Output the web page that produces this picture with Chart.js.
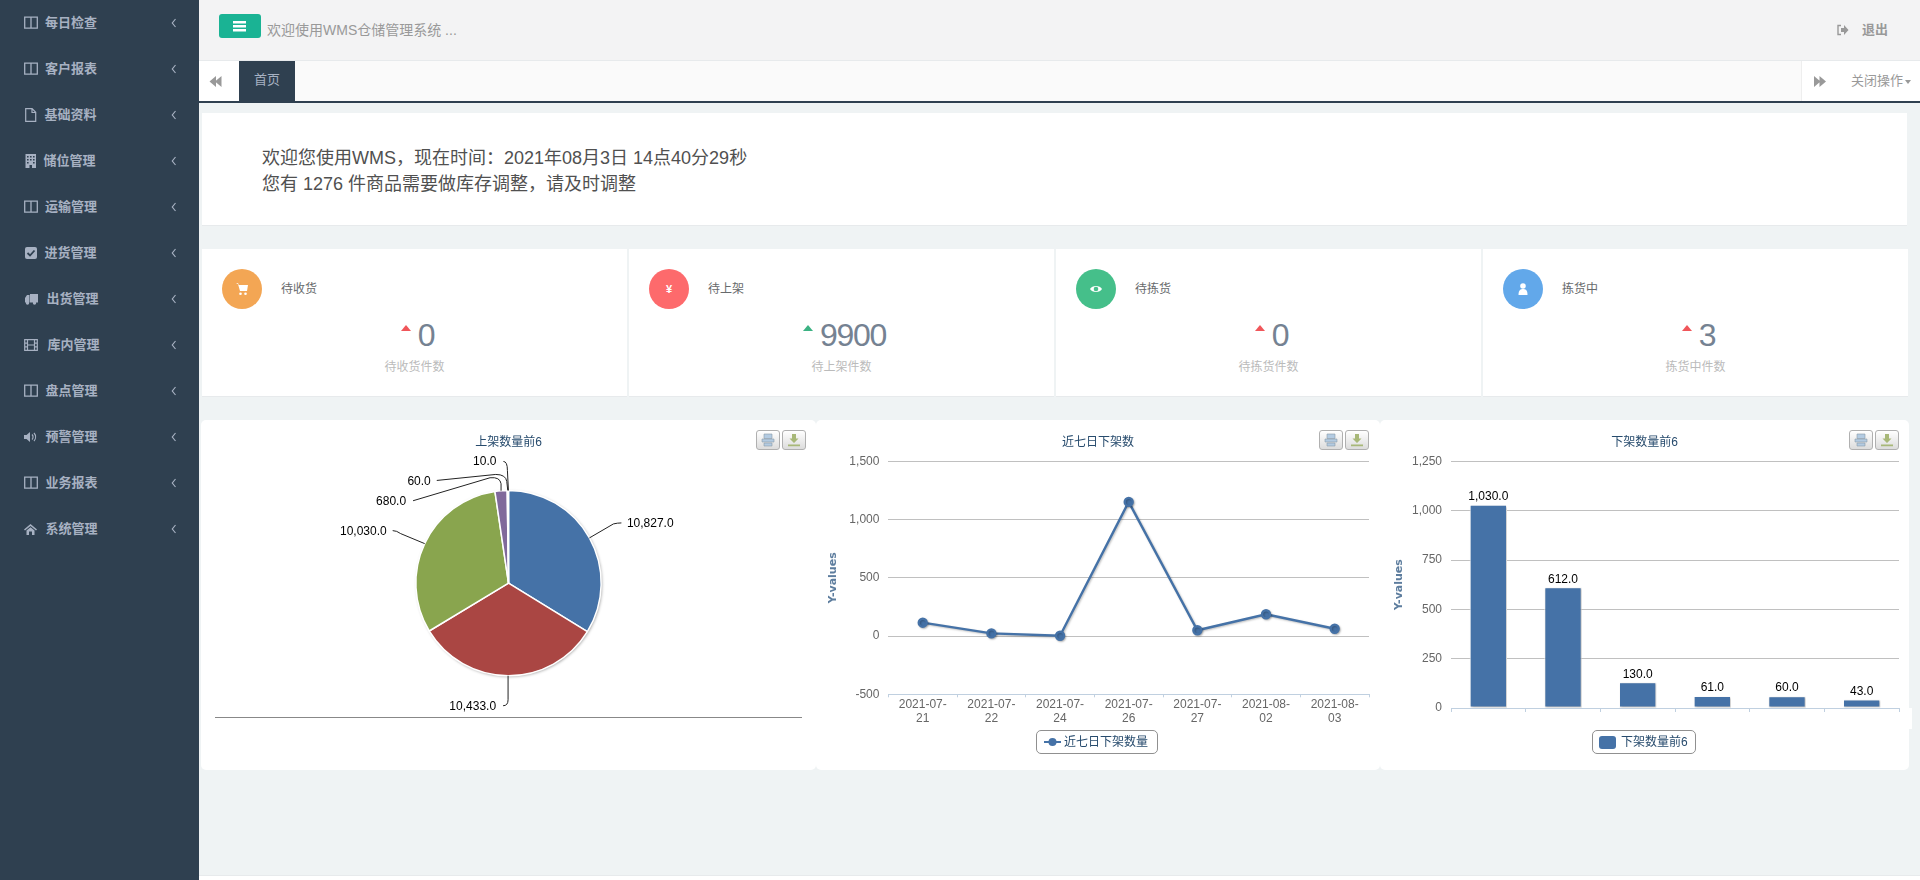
<!DOCTYPE html>
<html lang="zh-CN">
<head>
<meta charset="utf-8">
<title>WMS</title>
<script src="https://cdn.jsdelivr.net/npm/chart.js@4"></script>
<style>
    html, body { margin: 0; padding: 0; width: 1920px; height: 880px; overflow: hidden; background: #eff3f4; }
    body { position: relative; font-family: "Liberation Sans", "Noto Sans CJK SC", sans-serif; color: #676a6c; }
    .abs { position: absolute; white-space: nowrap; }
    .white { position: absolute; background: #fff; }
    #sidebar { position: absolute; left: 0; top: 0; width: 199px; height: 880px; background: #2f4050; color: #a7b1c2; }
    #topbar { position: absolute; left: 199px; top: 0; width: 1721px; height: 60px; background: #f3f3f4; border-bottom: 1px solid #e7eaec; }
    #tabbar { position: absolute; left: 199px; top: 61px; width: 1721px; height: 40px; background: #fafafa; border-bottom: 2px solid #2f4050; }
    #bottom { position: absolute; left: 199px; top: 875px; width: 1721px; height: 5px; background: #fff; border-top: 1px solid #e7eaec; }
    .card { position: absolute; top: 420px; height: 350px; background: #fff; border-radius: 5px; }
    .card canvas { position: absolute; left: 0; top: 0; }
    .stat { position: absolute; top: 249px; width: 425px; height: 147px; background: #fff; border-bottom: 1px solid #e7eaec; }
    .circle { position: absolute; left: 20px; top: 20px; width: 40px; height: 40px; border-radius: 50%; color: #fff; font-size: 11px; font-weight: bold; line-height: 40px; text-align: center; }
    .circle svg { position: absolute; left: 13px; top: 13px; }
    .num { position: absolute; left: 3px; top: 69px; width: 425px; height: 34px; display: flex; justify-content: center; font-size: 32px; letter-spacing: -1.3px; line-height: 34px; color: #758292; }
    .tri { width: 0; height: 0; margin: 7px 7px 0 0; border-left: 5.5px solid transparent; border-right: 5.5px solid transparent; border-bottom: 6px solid #f0565a; }
    .btn { position: absolute; top: 10px; width: 22px; height: 18px; border: 1px solid #b0b0b0; border-radius: 3px; background: linear-gradient(#ffffff, #dcdcdc); }
    .btn svg { position: absolute; left: 4px; top: 2px; }
    .legend { position: absolute; top: 310px; height: 22px; border: 1px solid #909090; border-radius: 5px; background: #fff; font-size: 12px; line-height: 23px; color: #274b6d; }
</style>
</head>
<body>
<div id="sidebar"></div>
<div id="topbar">
    <div class="abs" style="left:20px;top:14px;width:42px;height:24px;background:#1ab394;border-radius:3px">
        <svg width="42" height="24"><path d="M14 7h13v2.400H14zM14 11h13v2.400H14zM14 15h13v2.400H14z" fill="#fff"/></svg>
    </div>
    <div class="abs" style="left:68px;top:20px;font-size:14px;line-height:20px;color:#999">欢迎使用WMS仓储管理系统 ...</div>
    <svg class="abs" style="left:1637px;top:24px" width="13" height="12"><path d="M5 1.500H2v9h3" fill="none" stroke="#999" stroke-width="1.400"/><path d="M5 4h3V1l4.500 5L8 11V8H5z" fill="#999"/></svg>
    <div class="abs" style="left:1663px;top:20px;font-size:13px;font-weight:bold;line-height:20px;color:#999">退出</div>
</div>
<div id="tabbar">
    <div class="abs" style="left:0;top:0;width:40px;height:40px;background:#fff">
        <svg width="40" height="40"><path d="M17 15l-6.500 5.500 6.500 5.500zM22.500 15l-6.500 5.500 6.500 5.500z" fill="#999"/></svg>
    </div>
    <div class="abs" style="left:40px;top:0;width:56px;height:40px;background:#2f4050;color:#a7b1c2;font-size:13px;line-height:38px;text-align:center">首页</div>
    <div class="abs" style="left:1602px;top:0;width:40px;height:40px;background:#fff;border-left:1px solid #eee;border-right:1px solid #eee">
        <svg width="40" height="40"><path d="M12 15l6.500 5.500-6.500 5.500zM17.500 15l6.500 5.500-6.500 5.500z" fill="#999"/></svg>
    </div>
    <div class="abs" style="left:1643px;top:0;width:78px;height:40px;background:#fff;color:#999;font-size:13px;line-height:40px;text-indent:9px">关闭操作<span style="display:inline-block;width:0;height:0;margin-left:2px;vertical-align:1px;text-indent:0;border-left:3.500px solid transparent;border-right:3.500px solid transparent;border-top:4px solid #999"></span></div>
</div>

<div class="white" style="left:202px;top:113px;width:1705px;height:112px;border-bottom:1px solid #e7eaec"></div>
<div class="abs" style="left:262px;top:145px;font-size:18px;line-height:26px;color:#505050">欢迎您使用WMS，现在时间：2021年08月3日 14点40分29秒<br>您有 1276 件商品需要做库存调整，请及时调整</div>

<div id="stats"></div>

<div class="card" style="left:201px;width:615px">
    <canvas id="pieChart" width="615" height="350" style="width:615px;height:350px"></canvas>
    <div class="abs" style="left:14px;top:296.500px;width:587px;height:1px;background:#888"></div>
</div>
<div class="card" style="left:816px;width:564px">
    <canvas id="lineChart" width="564" height="350" style="width:564px;height:350px"></canvas>
    <div class="legend" style="left:220px;width:120px">
        <svg class="abs" style="left:7px;top:4px" width="17" height="14"><path d="M0 7h17" stroke="#4572a7" stroke-width="2"/><circle cx="8.500" cy="7" r="4" fill="#4572a7"/></svg>
        <span class="abs" id="lineLegend" style="left:27px"></span>
    </div>
</div>
<div class="card" style="left:1380px;width:529px">
    <canvas id="barChart" width="529" height="350" style="width:529px;height:350px"></canvas>
    <div class="legend" style="left:212px;width:102px">
        <span class="abs" style="left:6px;top:5px;width:17px;height:13px;background:#4572a7;border-radius:3px"></span>
        <span class="abs" id="barLegend" style="left:28px"></span>
    </div>
</div>
<div class="white" style="left:1900px;top:708px;width:12px;height:21px"></div>
<div id="bottom"></div>

<script>
// sidebar + stat card text
const menuNames = ['每日检查', '客户报表', '基础资料', '储位管理', '运输管理', '进货管理', '出货管理', '库内管理', '盘点管理', '预警管理', '业务报表', '系统管理'];
const menuIcons = ['columns', 'columns', 'file', 'building', 'columns', 'check', 'truck', 'film', 'columns', 'volume', 'columns', 'home'];
const menuTextLeft = [45, 45, 44.5, 43.5, 45, 44.5, 46.5, 47.5, 45.5, 45.5, 45.5, 45.5];

const statTitles = ['待收货', '待上架', '待拣货', '拣货中'];
const statValues = ['0', '9900', '0', '3'];
const statNotes = ['待收货件数', '待上架件数', '待拣货件数', '拣货中件数'];
const statColors = ['#f3a654', '#fd6a6c', '#45bf8a', '#62a8ea'];

// chart data
const pieNames = ['商品1', '商品2', '商品3', '商品4', '商品5', '商品6'];
const pieValues = [10827, 10433, 10030, 680, 60, 10];
const pieColors = ['#4572a7', '#aa4643', '#89a54e', '#80699b', '#3d96ae', '#db843d'];

const lineCategories = ['2021-07-21', '2021-07-22', '2021-07-24', '2021-07-26', '2021-07-27', '2021-08-02', '2021-08-03'];
const lineValues = [115, 23, 3, 1152, 50, 187, 63];
const lineTicks = [-500, 0, 500, 1000, 1500];

const barCategories = ['', ' ', '  ', '   ', '    ', '     '];
const barValues = [1030, 612, 130, 61, 60, 43];
const barTicks = [0, 250, 500, 750, 1000, 1250];

const pieTitle = '上架数量前6';
const lineTitle = '近七日下架数';
const barTitle = '下架数量前6';
const lineSeriesName = '近七日下架数量';
const barSeriesName = '下架数量前6';

const fontFamily = '"Liberation Sans", "Noto Sans CJK SC", sans-serif';
const blue = '#4572a7';

const iconPaths = {
    columns: '<path d="M.7 1.2h12.6v11H.7zM7 1.2v11" fill="none" stroke="#a7b1c2" stroke-width="1.3"/>',
    file: '<path d="M1.7.7h6.4l3.6 3.6v9H1.7zM8 .7v3.8h3.6" fill="none" stroke="#a7b1c2" stroke-width="1.2"/>',
    building: '<path d="M1.5 0h10.5v14H1.5z" fill="#a7b1c2"/><path d="M3 2h1.6v1.6H3zM6 2h1.6v1.6H6zM9 2h1.6v1.6H9zM3 5h1.6v1.6H3zM6 5h1.6v1.6H6zM9 5h1.6v1.6H9zM3 8h1.6v1.6H3zM9 8h1.6v1.6H9zM5.5 11h2.5v3H5.5z" fill="#2f4050"/>',
    check: '<rect x="1" y="1" width="12" height="12" rx="2" fill="#a7b1c2"/><path d="M3.5 7l2.5 2.5 4.5-5" fill="none" stroke="#2f4050" stroke-width="1.8"/>',
    truck: '<path d="M6 2h8v8.5H6zM1 6l2-3h2.5v7.5H1z" fill="#a7b1c2"/><circle cx="3.5" cy="11" r="1.7" fill="#a7b1c2"/><circle cx="10.5" cy="11" r="1.7" fill="#a7b1c2"/>',
    film: '<path d="M.7 1.7h12.6v10.6H.7zM3.5 1.7v10.6M10.5 1.7v10.6M.7 5.2h2.8M.7 8.8h2.8M10.5 5.2h2.8M10.5 8.8h2.8M3.5 7h7" fill="none" stroke="#a7b1c2" stroke-width="1.2"/>',
    volume: '<path d="M0 5h2.5L6 2v10L2.5 9H0z" fill="#a7b1c2"/><path d="M8 4.5a3.5 3.5 0 0 1 0 5M10 3a6 6 0 0 1 0 8" fill="none" stroke="#a7b1c2" stroke-width="1.2"/>',
    home: '<path d="M0 7.5L6.5 2 13 7.5l-1 1-5.5-4.5L1 8.500zM2.500 8.500l4-3.300 4 3.300V13H8V9.500H5V13H2.500z" fill="#a7b1c2"/>'
};

const statIcons = [
    '<path d="M1 1h2l.8 2H13l-1 6H5L3 2" fill="#fff"/><circle cx="5.500" cy="11.800" r="1.300" fill="#fff"/><circle cx="10.500" cy="11.800" r="1.300" fill="#fff"/>',
    '',
    '<path d="M1 7c2-4 10-4 12 0-2 4-10 4-12 0z" fill="#fff"/><circle cx="7" cy="7" r="2.300" fill="#45bf8a"/>',
    '<circle cx="7" cy="4" r="2.800" fill="#fff"/><path d="M2.500 13c0-5 2-6 4.500-6s4.500 1 4.500 6z" fill="#fff"/>'
];

// leader lines of the pie, offsets are from the point on the rim of each slice
const pieLeaders = [
    { p1: [24, -14], corner: [28, -15], p2: [32, -15], text: [37.5, -14], align: 'left' },
    { p1: [0, 24], corner: [0, 30], p2: [-5, 30], text: [-12, 31], align: 'right' },
    { p1: [-24, -10], corner: [-28, -13], p2: [-32, -13], text: [-38, -12], align: 'right' },
    { p1: [0, -7], corner: [-1, -14], p2: [-11, -13], end: [-88, 10], text: [-95, 11], align: 'right' },
    { p1: [-1, -9], corner: [-2, -16], p2: [-12, -16], end: [-71, -10], text: [-77, -9], align: 'right' },
    { p1: [-1, -20], corner: [-1, -29], p2: [-5, -29], text: [-12, -29], align: 'right' }
];

function fmt(v) {
    return Number(v).toLocaleString('en-US');
}

function fmtOne(v) {
    return Number(v).toLocaleString('en-US', { minimumFractionDigits: 1, maximumFractionDigits: 1 });
}

function buildSidebar() {
    const box = document.getElementById('sidebar');
    menuNames.forEach(function (name, i) {
        const cy = 23 + 46 * i;
        box.insertAdjacentHTML('beforeend',
            '<svg class="abs" style="left:24px;top:' + (cy - 7) + 'px" width="14" height="14">' + iconPaths[menuIcons[i]] + '</svg>' +
            '<div class="abs" style="left:' + menuTextLeft[i] + 'px;top:' + (cy - 10) + 'px;font-size:13px;font-weight:bold;line-height:20px">' + name + '</div>' +
            '<svg class="abs" style="left:171px;top:' + (cy - 5) + 'px" width="6" height="10"><path d="M4.500 1L1.300 5l3.200 4" fill="none" stroke="#a7b1c2" stroke-width="1.200"/></svg>');
    });
}

function buildStats() {
    const box = document.getElementById('stats');
    const lefts = [202, 629, 1056, 1483];
    statTitles.forEach(function (title, i) {
        const triColor = i === 1 ? '#3cb283' : '#f0565a';
        const icon = i === 1 ? '¥' : '<svg width="14" height="14">' + statIcons[i] + '</svg>';
        box.insertAdjacentHTML('beforeend',
            '<div class="stat" style="left:' + lefts[i] + 'px">' +
            '<div class="circle" style="background:' + statColors[i] + '">' + icon + '</div>' +
            '<div class="abs" style="left:79px;top:30px;font-size:12px;line-height:20px">' + title + '</div>' +
            '<div class="num"><span class="tri" style="border-bottom-color:' + triColor + '"></span>' + statValues[i] + '</div>' +
            '<div class="abs" style="left:0;top:109px;width:425px;text-align:center;font-size:12px;line-height:18px;color:#bbb">' + statNotes[i] + '</div>' +
            '</div>');
    });
}

function buildButtons() {
    const printIcon = '<svg width="14" height="14"><path d="M3 1h8v4.500H3zM1 6h12v3H1zM3 10h8v3H3z" fill="#b3cbe2" stroke="#8c9aa8" stroke-width=".6"/></svg>';
    const saveIcon = '<svg width="14" height="14"><path d="M5 1h4v4.500h2.500L7 10 2.500 5.500H5zM1 11.500h12v1.800H1z" fill="#a8b878"/></svg>';
    const offsets = [10, 11, 10];
    document.querySelectorAll('.card').forEach(function (card, i) {
        const right = card.offsetWidth;
        card.insertAdjacentHTML('beforeend',
            '<div class="btn" style="left:' + (right - offsets[i] - 50) + 'px">' + printIcon + '</div>' +
            '<div class="btn" style="left:' + (right - offsets[i] - 24) + 'px">' + saveIcon + '</div>');
    });
    document.getElementById('lineLegend').textContent = lineSeriesName;
    document.getElementById('barLegend').textContent = barSeriesName;
}

// soft shadow under marks, same as the old chart had
const shadowPlugin = {
    id: 'markShadow',
    beforeDatasetsDraw: function (chart) {
        const ctx = chart.ctx;
        ctx.save();
        ctx.shadowColor = 'rgba(0,0,0,0.25)';
        ctx.shadowOffsetX = 1;
        ctx.shadowOffsetY = 1;
        ctx.shadowBlur = 2;
    },
    afterDatasetsDraw: function (chart) {
        chart.ctx.restore();
    }
};

// one shadow below the whole pie, not per slice
const pieShadowPlugin = {
    id: 'pieShadow',
    beforeDatasetsDraw: function (chart) {
        const arc = chart.getDatasetMeta(0).data[0];
        const ctx = chart.ctx;
        ctx.save();
        ctx.shadowColor = 'rgba(0,0,0,0.35)';
        ctx.shadowOffsetX = 1;
        ctx.shadowOffsetY = 1;
        ctx.shadowBlur = 3;
        ctx.fillStyle = '#fff';
        ctx.beginPath();
        ctx.arc(arc.x, arc.y, arc.outerRadius, 0, Math.PI * 2);
        ctx.fill();
        ctx.restore();
    }
};

const pieLabelPlugin = {
    id: 'pieLabels',
    afterDatasetsDraw: function (chart) {
        const ctx = chart.ctx;
        ctx.save();
        ctx.font = '12px ' + fontFamily;
        ctx.fillStyle = '#000';
        ctx.strokeStyle = '#222';
        ctx.lineWidth = 1;
        ctx.textBaseline = 'middle';
        chart.getDatasetMeta(0).data.forEach(function (arc, i) {
            const mid = (arc.startAngle + arc.endAngle) / 2;
            const ax = arc.x + Math.cos(mid) * arc.outerRadius;
            const ay = arc.y + Math.sin(mid) * arc.outerRadius;
            const l = pieLeaders[i];
            ctx.beginPath();
            ctx.moveTo(ax, ay);
            ctx.lineTo(ax + l.p1[0], ay + l.p1[1]);
            ctx.quadraticCurveTo(ax + l.corner[0], ay + l.corner[1], ax + l.p2[0], ay + l.p2[1]);
            if (l.end) {
                ctx.lineTo(ax + l.end[0], ay + l.end[1]);
            }
            ctx.stroke();
            ctx.textAlign = l.align;
            ctx.fillText(fmtOne(pieValues[i]), ax + l.text[0], ay + l.text[1]);
        });
        ctx.restore();
    }
};

const barLabelPlugin = {
    id: 'barLabels',
    afterDatasetsDraw: function (chart) {
        const ctx = chart.ctx;
        ctx.save();
        ctx.font = '12px ' + fontFamily;
        ctx.fillStyle = '#000';
        ctx.textAlign = 'center';
        ctx.textBaseline = 'middle';
        chart.getDatasetMeta(0).data.forEach(function (bar, i) {
            ctx.fillText(fmtOne(barValues[i]), bar.x, bar.y - 8);
        });
        ctx.restore();
    }
};

function titleOptions(text, bottom) {
    return {
        display: true,
        text: text,
        color: '#274b6d',
        font: { size: 12, weight: 'normal' },
        padding: { top: 15, bottom: bottom }
    };
}

function axisOptions(ticks, axisWidth, titleGap) {
    return {
        min: ticks[0],
        max: ticks[ticks.length - 1],
        afterBuildTicks: function (scale) {
            scale.ticks = ticks.map(function (v) { return { value: v }; });
        },
        afterFit: function (scale) { scale.width = axisWidth; },
        grid: { color: '#c0c0c0', drawTicks: false },
        border: { display: false },
        ticks: {
            color: '#666',
            padding: 9,
            callback: function (v) { return fmt(v); }
        },
        title: {
            display: true,
            text: 'Y-values',
            color: '#5d7d9e',
            font: { family: '"DejaVu Sans", sans-serif', size: 11, weight: 'bold' },
            padding: { top: titleGap, bottom: 0 }
        }
    };
}

function initializeCharts() {
    Chart.defaults.font.family = fontFamily;
    Chart.defaults.font.size = 12;
    Chart.defaults.animation = false;

    new Chart(document.getElementById('pieChart'), {
        type: 'pie',
        data: {
            labels: pieNames,
            datasets: [{ data: pieValues, backgroundColor: pieColors, borderColor: '#fff', borderWidth: 1.5 }]
        },
        options: {
            responsive: false,
            devicePixelRatio: 1,
            layout: { padding: { bottom: 93.5 } },
            plugins: {
                legend: { display: false },
                tooltip: { enabled: false },
                title: titleOptions(pieTitle, 40.3)
            }
        },
        plugins: [pieShadowPlugin, pieLabelPlugin]
    });

    new Chart(document.getElementById('lineChart'), {
        type: 'line',
        data: {
            labels: lineCategories,
            datasets: [{
                label: lineSeriesName,
                data: lineValues,
                borderColor: blue,
                backgroundColor: blue,
                borderWidth: 2.4,
                pointRadius: 4,
                tension: 0,
                fill: false
            }]
        },
        options: {
            responsive: false,
            devicePixelRatio: 1,
            layout: { padding: { left: 11, right: 11 } },
            plugins: {
                legend: { display: false },
                tooltip: { enabled: false },
                title: titleOptions(lineTitle, 12)
            },
            scales: {
                x: {
                    offset: true,
                    afterFit: function (scale) { scale.height = 75.7; },
                    grid: { offset: true, drawOnChartArea: false, color: '#c0d0e0', tickLength: 3 },
                    border: { color: '#c0d0e0' },
                    ticks: {
                        color: '#666',
                        maxRotation: 0,
                        autoSkip: false,
                        padding: 0,
                        callback: function (value) {
                            const s = this.getLabelForValue(value);
                            return [s.slice(0, 8), s.slice(8)];
                        }
                    }
                },
                y: axisOptions(lineTicks, 61.4, 0)
            }
        },
        plugins: [shadowPlugin]
    });

    new Chart(document.getElementById('barChart'), {
        type: 'bar',
        data: {
            labels: barCategories,
            datasets: [{
                label: barSeriesName,
                data: barValues,
                backgroundColor: blue,
                borderColor: '#fff',
                borderWidth: 1,
                borderSkipped: false,
                categoryPercentage: 1,
                barPercentage: 0.5
            }]
        },
        options: {
            responsive: false,
            devicePixelRatio: 1,
            layout: { padding: { left: 10, right: 10 } },
            plugins: {
                legend: { display: false },
                tooltip: { enabled: false },
                title: titleOptions(barTitle, 12)
            },
            scales: {
                x: {
                    afterFit: function (scale) { scale.height = 62; },
                    grid: { offset: true, drawOnChartArea: false, color: '#c0d0e0', tickLength: 4 },
                    border: { color: '#c0d0e0' },
                    ticks: { display: false }
                },
                y: axisOptions(barTicks, 61, 3)
            }
        },
        plugins: [shadowPlugin, barLabelPlugin]
    });
}

buildSidebar();
buildStats();
buildButtons();
initializeCharts();
</script>
</body>
</html>
